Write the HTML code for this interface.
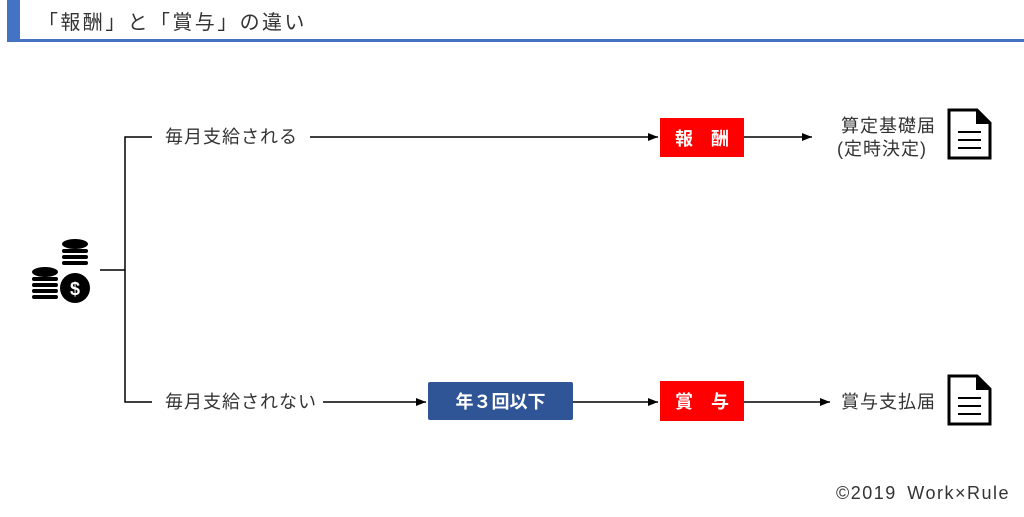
<!DOCTYPE html>
<html><head><meta charset="utf-8"><style>
body{margin:0;width:1024px;height:517px;background:#fff;position:relative;overflow:hidden;font-family:"Liberation Sans","Noto Sans CJK JP",sans-serif;color:#333}
.a{position:absolute}
.t{font-size:18px;letter-spacing:1px;white-space:nowrap;line-height:22px}
.box{position:absolute;color:#fff;font-weight:bold;font-size:18px;display:flex;align-items:center;justify-content:center}
</style></head><body>
<div class="a" style="left:7px;top:0;width:13px;height:42px;background:#4472c4"></div>
<div class="a" style="left:7px;top:39px;width:1017px;height:3px;background:#4472c4"></div>
<div class="a" style="left:38px;top:6px;font-size:20px;letter-spacing:2.4px;color:#333;white-space:nowrap">「報酬」と「賞与」の違い</div>

<svg class="a" style="left:0;top:0" width="1024" height="517">
<defs><marker id="m" markerWidth="10" markerHeight="8" refX="10" refY="4" orient="auto" markerUnits="userSpaceOnUse"><path d="M0,0L10,4L0,8z" fill="#000"/></marker></defs>
<g stroke="#000" stroke-width="1.5" fill="none">
<path d="M100,270H125M152,137H125V402H152"/>
<path d="M310,137H658" marker-end="url(#m)"/>
<path d="M744,137H812" marker-end="url(#m)"/>
<path d="M323,402H426" marker-end="url(#m)"/>
<path d="M573,402H658" marker-end="url(#m)"/>
<path d="M744,402H830" marker-end="url(#m)"/>
</g>
<g fill="#000">
<ellipse cx="75" cy="244" rx="13" ry="5"/>
<rect x="62" y="249" width="26" height="4" rx="2"/>
<rect x="62" y="255" width="26" height="4" rx="2"/>
<rect x="62" y="261" width="26" height="4" rx="2"/>
<ellipse cx="45" cy="272" rx="13" ry="5"/>
<rect x="32" y="277" width="26" height="4" rx="2"/>
<rect x="32" y="283" width="26" height="4" rx="2"/>
<rect x="32" y="289" width="26" height="4" rx="2"/>
<rect x="32" y="295" width="26" height="4" rx="2"/>
<circle cx="75" cy="288" r="15"/>
</g>
<text x="75" y="295" font-size="18" font-weight="bold" fill="#fff" text-anchor="middle" font-family="Liberation Sans">$</text>
<g stroke="#000" stroke-width="3" fill="none">
<path d="M949,110H977L990,123V158H949Z"/>
<path d="M949,376H977L990,389V424H949Z"/>
<path d="M958,132H981M958,140H981M958,148H981M958,398H981M958,406H981M958,414H981" stroke-width="2"/>
</g>
<path d="M976,110V124H990Z" fill="#000"/>
<path d="M976,376V390H990Z" fill="#000"/>
</svg>

<div class="a t" style="left:165px;top:126px">毎月支給される</div>
<div class="a t" style="left:165px;top:391px">毎月支給されない</div>
<div class="box" style="left:660px;top:118px;width:84px;height:39px;background:#ff0000">報　酬</div>
<div class="box" style="left:428px;top:382px;width:145px;height:38px;background:#2f5597;border-radius:2px">年３回以下</div>
<div class="box" style="left:660px;top:381px;width:84px;height:40px;background:#ff0000">賞　与</div>
<div class="a t" style="left:841px;top:115px">算定基礎届</div>
<div class="a t" style="left:837px;top:138px">(定時決定)</div>
<div class="a t" style="left:841px;top:391px">賞与支払届</div>
<div class="a t" style="left:836px;top:482px;font-size:18px;letter-spacing:1.5px;word-spacing:4px">©2019 Work×Rule</div>
</body></html>
